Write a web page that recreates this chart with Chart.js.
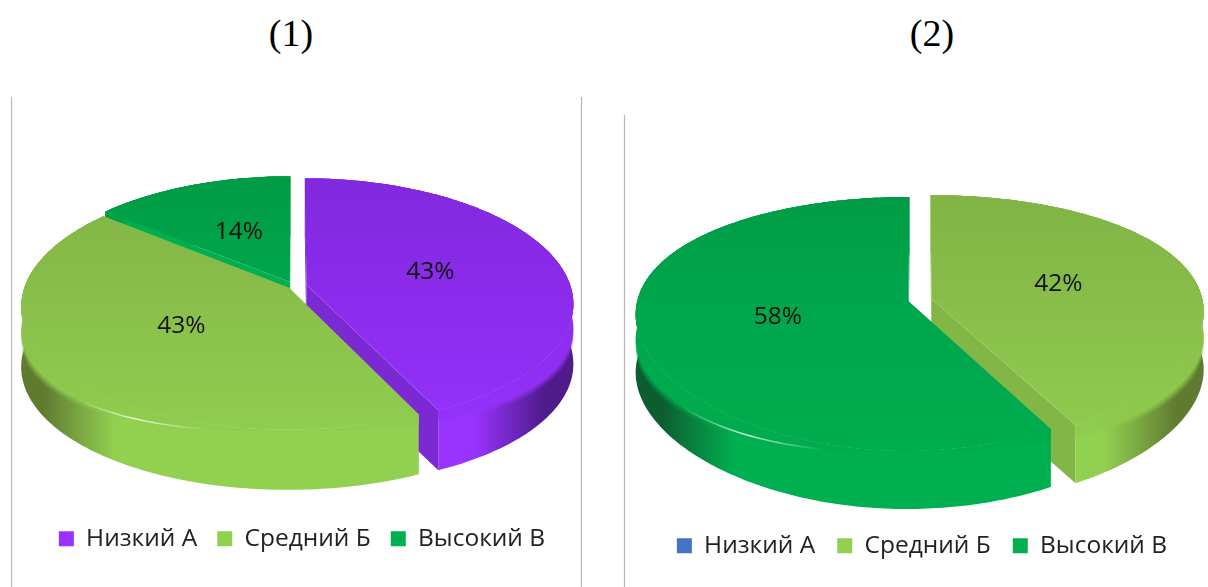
<!DOCTYPE html>
<html><head><meta charset="utf-8">
<script src="https://cdn.jsdelivr.net/npm/chart.js@4"></script>
<style>
html,body{margin:0;padding:0;background:#fff;width:1208px;height:587px;overflow:hidden}
.t{position:absolute;top:11px;font:38px "Liberation Serif",serif;color:#000;transform:translateX(-50%)}
.v{position:absolute;width:1px;background:#b8b8b8;box-shadow:0 0 1px #b8b8b8}
canvas{position:absolute;top:0}
#w1,#w2{position:absolute;top:0;height:587px}
#w1{left:0;width:604px}#w2{left:622px;width:600px}
</style></head><body>
<div class="t" style="left:291px">(1)</div>
<div class="t" style="left:932px">(2)</div>
<div class="v" style="left:11px;top:97px;height:490px"></div>
<div class="v" style="left:581px;top:97px;height:490px"></div>
<div class="v" style="left:624px;top:115px;height:472px"></div>
<div id="w1"><canvas id="c1"></canvas></div>
<div id="w2"><canvas id="c2"></canvas></div>
<script>
const categories=['Низкий А','Средний Б','Высокий В'];
const valuesLeft=[43,43,14];
const valuesRight=[0,42,58];
const coloursLeft=['#9933ff','#92d050','#00b050'];
const coloursRight=['#4472c4','#92d050','#00b050'];
const explodeLeft=[12,6,9];
const explodeRight=[11,11,11];

// shading per base colour
const shades={
 '#9933ff':{far:'#8029dc',mid:'#8a2bea',near:'#9432fa',side:'#9933ff',dark:'#4f1b8a',cut:'#7b29d2'},
 '#92d050':{far:'#7fb345',mid:'#88bd4a',near:'#90cd4f',side:'#92d050',dark:'#5f7b30',cut:'#82b748'},
 '#00b050':{far:'#009a44',mid:'#00a64c',near:'#00ac4e',side:'#00b050',dark:'#0c5e30',cut:'#00b050'},
 '#4472c4':{far:'#4472c4',mid:'#4472c4',near:'#4472c4',side:'#4472c4',dark:'#4472c4',cut:'#4472c4'}
};
// projection of the pie disc for each chart
const viewLeft={cx:294,cy:286,rx:264,ry:121.6,k:.14,kx:.15,depth:60,bevel:25,streak:[226,195]};
const viewRight={cx:920,cy:300,rx:271,ry:122.5,k:.178,kx:.1,depth:58,bevel:25,streak:[232,196]};

function proj(g,u,v,z){
  return [g.cx-g.ox+g.rx*u/(1+g.kx*v), g.cy+z-g.ry*v/(1+g.k*v)];
}
function pt(g,a,r,th,z){
  const mid=(a.t0+a.t1)/2;
  return proj(g,r*Math.sin(th)+a.d*Math.sin(mid),r*Math.cos(th)+a.d*Math.cos(mid),z);
}
function bz(g,th){return g.bevel*Math.pow(Math.abs(Math.sin(th)),1.2);}
function rim(ctx,g,a,zf,rev,first){
  const n=Math.max(2,Math.ceil((a.t1-a.t0)*180/Math.PI));
  for(let i=0;i<=n;i++){
    const th=a.t0+(a.t1-a.t0)*(rev?n-i:i)/n;
    const p=pt(g,a,1,th,zf(th));
    if(i===0&&first)ctx.moveTo(p[0],p[1]);else ctx.lineTo(p[0],p[1]);
  }
}
function pie3d(g){return{
  id:'pie3d',
  beforeDatasetDraw(chart){
    const ctx=chart.ctx;
    g.ox=chart.canvas.parentNode.offsetLeft;
    const ds=chart.data.datasets[0];
    const arcs=chart.getDatasetMeta(0).data.map((el,i)=>({
      t0:el.startAngle+Math.PI/2,t1:el.endAngle+Math.PI/2,
      d:(el.options.offset||0)/el.outerRadius,
      s:shades[ds.backgroundColor[i]],v:ds.data[i]})).filter(a=>a.v>0);
    arcs.sort((a,b)=>Math.cos((b.t0+b.t1)/2)-Math.cos((a.t0+a.t1)/2));
    const L=g.cx-g.ox-g.rx,R=g.cx-g.ox+g.rx;
    for(const a of arcs){
      // radial cut walls
      for(const th of [a.t0,a.t1]){
        const c0=pt(g,a,0,0,0),c1=pt(g,a,1,th,0),c2=pt(g,a,1,th,g.depth),c3=pt(g,a,0,0,g.depth);
        ctx.beginPath();ctx.moveTo(c0[0],c0[1]);ctx.lineTo(c1[0],c1[1]);ctx.lineTo(c2[0],c2[1]);ctx.lineTo(c3[0],c3[1]);ctx.closePath();
        ctx.fillStyle=a.s.cut;ctx.fill();
      }
      // outer wall
      const wg=ctx.createLinearGradient(L,0,R,0);
      wg.addColorStop(0,a.s.dark);wg.addColorStop(.025,a.s.dark);wg.addColorStop(.16,a.s.side);
      wg.addColorStop(.84,a.s.side);wg.addColorStop(.975,a.s.dark);wg.addColorStop(1,a.s.dark);
      ctx.beginPath();rim(ctx,g,a,()=>0,false,true);rim(ctx,g,a,()=>g.depth,true,false);ctx.closePath();
      ctx.fillStyle=wg;ctx.fill();
      // top face with its rounded edge, softened in steps
      const fg=ctx.createLinearGradient(0,g.cy-g.ry,0,g.cy+g.ry*1.2);
      fg.addColorStop(0,a.s.far);fg.addColorStop(.45,a.s.mid);fg.addColorStop(1,a.s.near);
      const ap=pt(g,a,0,0,0);
      [[1.3,.3],[1.15,.5],[1,1]].forEach(([f,al])=>{
        ctx.save();ctx.globalAlpha=al;
        ctx.beginPath();rim(ctx,g,a,()=>0,false,true);rim(ctx,g,a,th=>f*bz(g,th),true,false);ctx.closePath();
        ctx.fillStyle=fg;ctx.fill();
        ctx.restore();
      });
      ctx.beginPath();ctx.moveTo(ap[0],ap[1]);rim(ctx,g,a,()=>0,false,false);ctx.closePath();
      ctx.fillStyle=fg;ctx.fill();
      // rim highlight
      const s0=g.streak[0]*Math.PI/180,s1=g.streak[1]*Math.PI/180;
      if(a.t0<s1&&a.t1>s0){
        const p0=pt(g,a,1,s0,bz(g,s0)),p1=pt(g,a,1,s1,bz(g,s1));
        const hg=ctx.createLinearGradient(p0[0],0,p1[0],0);
        hg.addColorStop(0,'rgba(255,255,255,0)');hg.addColorStop(.45,'rgba(255,255,255,.75)');hg.addColorStop(1,'rgba(255,255,255,0)');
        ctx.beginPath();
        for(let i=0;i<=30;i++){const th=s0+(s1-s0)*i/30,p=pt(g,a,1,th,bz(g,th));i?ctx.lineTo(p[0],p[1]):ctx.moveTo(p[0],p[1]);}
        ctx.strokeStyle=hg;ctx.lineWidth=1.6;ctx.stroke();
      }
    }
    return false;
  },
  afterDatasetsDraw(chart){
    const ctx=chart.ctx;
    ctx.save();ctx.font='24.5px "Open Sans",sans-serif';ctx.fillStyle='#111';ctx.textAlign='center';ctx.textBaseline='middle';
    const ds=chart.data.datasets[0];
    chart.getDatasetMeta(0).data.forEach((el,i)=>{
      if(!ds.data[i])return;
      const a={t0:el.startAngle+Math.PI/2,t1:el.endAngle+Math.PI/2,d:(el.options.offset||0)/el.outerRadius};
      const p=pt(g,a,.49,(a.t0+a.t1)/2,0);
      ctx.fillText(ds.data[i]+'%',p[0],p[1]);
    });
    ctx.restore();
  }
};}
function make(id,values,colours,explode,view,padBottom,gap){
  new Chart(document.getElementById(id),{
    type:'pie',
    data:{labels:categories,datasets:[{data:values,backgroundColor:colours,offset:explode,borderWidth:0}]},
    options:{
      responsive:true,maintainAspectRatio:false,animation:false,
      layout:{padding:{bottom:padBottom}},
      plugins:{tooltip:{enabled:false},title:{display:false},
        legend:{position:'bottom',labels:{boxWidth:15,boxHeight:15,padding:gap,color:'#222',font:{family:'"Open Sans",sans-serif',size:24.5}}}}
    },
    plugins:[pie3d(view)]
  });
}
make('c1',valuesLeft,coloursLeft,explodeLeft,viewLeft,26,20);
make('c2',valuesRight,coloursRight,explodeRight,viewRight,19,22);
</script>
</body></html>
